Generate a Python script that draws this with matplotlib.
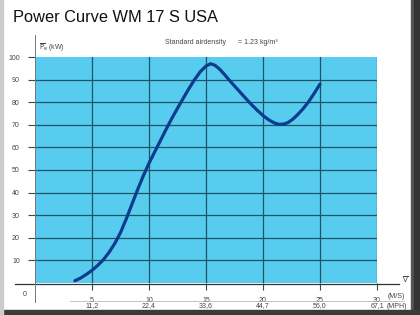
import matplotlib
matplotlib.use('Agg')
import matplotlib.pyplot as plt
from matplotlib.lines import Line2D
from matplotlib.patches import Rectangle
import matplotlib.transforms as mtransforms

plt.rcParams['font.family'] = ['Liberation Sans', 'DejaVu Sans']

# Power curve (wind speed m/s, power kW)
wind_speed = [3.5, 4.0, 4.5, 5.0, 5.5, 6.0, 6.5, 7.0, 7.5, 8.0, 8.5, 9.0, 9.5, 10.0,
              10.5, 11.0, 11.5, 12.0, 12.5, 13.0, 13.5, 14.0, 14.5, 15.0, 15.4,
              15.8, 16.2, 16.6, 17.0, 17.5, 18.0, 18.5, 19.0, 19.5, 20.0, 20.5,
              21.0, 21.4, 21.8, 22.2, 22.6, 23.0, 23.5, 24.0, 24.5, 25.0]
power_kw = [1.0, 2.2, 3.8, 5.6, 7.8, 10.3, 13.6, 17.5, 22.3, 28.3, 34.8, 41.3, 47.4, 53.0,
            58.0, 63.0, 68.0, 72.8, 77.3, 81.7, 86.0, 90.0, 93.5, 96.0, 97.0,
            96.3, 94.6, 92.4, 90.0, 87.2, 84.4, 81.6, 78.9, 76.4, 74.1, 72.2,
            70.8, 70.2, 70.3, 71.0, 72.4, 74.3, 77.0, 80.2, 84.0, 88.0]

ms_ticks = [5, 10, 15, 20, 25, 30]
mph_labels = ['11,2', '22,4', '33,6', '44,7', '56,0', '67,1']
kw_ticks = [10, 20, 30, 40, 50, 60, 70, 80, 90, 100]

W, H = 420, 315
fig = plt.figure(figsize=(4.2, 3.15), dpi=100)
fig.patch.set_facecolor('white')

def fx(px):
    return px / W

def fy(py):
    return 1 - py / H

# plot area (blue panel)
ax = fig.add_axes([fx(35), fy(283), fx(377) - fx(35), fy(57) - fy(283)])
ax.set_facecolor('#58ccee')
ax.set_xlim(0, 30)
ax.set_ylim(0, 100)
for s in ax.spines.values():
    s.set_visible(False)

grid_col = '#1d5566'
for v in ms_ticks:
    ax.axvline(v, color=grid_col, lw=0.9, zorder=1)
for p in kw_ticks[:-1]:
    ax.axhline(p, color=grid_col, lw=0.9, zorder=1)

ax.plot(wind_speed, power_kw, color='#0c3c8c', lw=2.3, solid_capstyle='round',
        solid_joinstyle='round', zorder=3)

ax.set_xticks(ms_ticks)
ax.set_xticklabels([str(v) for v in ms_ticks])
ax.set_yticks(kw_ticks)
ax.set_yticklabels([str(p) for p in kw_ticks])
ax.tick_params(axis='both', direction='out', length=5, width=0.8, color=grid_col,
               labelsize=5, labelcolor='#444444')
ax.tick_params(axis='x', pad=5)
ax.tick_params(axis='y', pad=6)

# MPH row
trans = mtransforms.blended_transform_factory(ax.transData, fig.transFigure)
for v, lab in zip(ms_ticks, mph_labels):
    ax.text(v, fy(306), lab, transform=trans, ha='center', va='center',
            fontsize=5, color='#444444')
fig.text(fx(396), fy(296), '(M/S)', ha='center', va='center', fontsize=5, color='#444444')
fig.text(fx(397), fy(306), '(MPH)', ha='center', va='center', fontsize=5, color='#444444')
fig.text(fx(25), fy(295), '0', ha='center', va='center', fontsize=5, color='#444444')
fig.add_artist(Line2D([fx(70), fx(404)], [fy(301), fy(301)], color='#aaaaaa', lw=0.5))

# axis lines
fig.add_artist(Line2D([fx(15), fx(399)], [fy(283.5), fy(283.5)], color='#333333', lw=0.9))
fig.add_artist(Line2D([fx(35), fx(35)], [fy(35), fy(302)], color='#777777', lw=0.7))
fig.text(fx(405), fy(280), r'$\overline{\mathrm{V}}$', ha='center', va='center',
         fontsize=5, color='#444444')

# titles and labels
fig.text(fx(13), fy(17), 'Power Curve WM 17 S USA', ha='left', va='center',
         fontsize=11.8, color='#111111')
fig.text(fx(39), fy(48), r'$\overline{\mathrm{P}}_\mathrm{e}$ (kW)', ha='left', va='center',
         fontsize=5, color='#444444')
fig.text(fx(165), fy(42), 'Standard airdensity      = 1.23 kg/m³', ha='left', va='center',
         fontsize=5, color='#444444')

# photo frame shadows
fig.add_artist(Rectangle((fx(411), 0), 1 - fx(411), 1, transform=fig.transFigure,
                         color='#555555', zorder=0))
fig.add_artist(Rectangle((fx(414), 0), 1 - fx(414), 1, transform=fig.transFigure,
                         color='#333333', zorder=0))
fig.add_artist(Rectangle((0, 0), 1, fy(310), transform=fig.transFigure,
                         color='#3a3a3a', zorder=0))
fig.add_artist(Rectangle((0, 0), fx(3), 1, transform=fig.transFigure,
                         color='#cccccc', zorder=0))

fig.savefig('out.png', dpi=100)
